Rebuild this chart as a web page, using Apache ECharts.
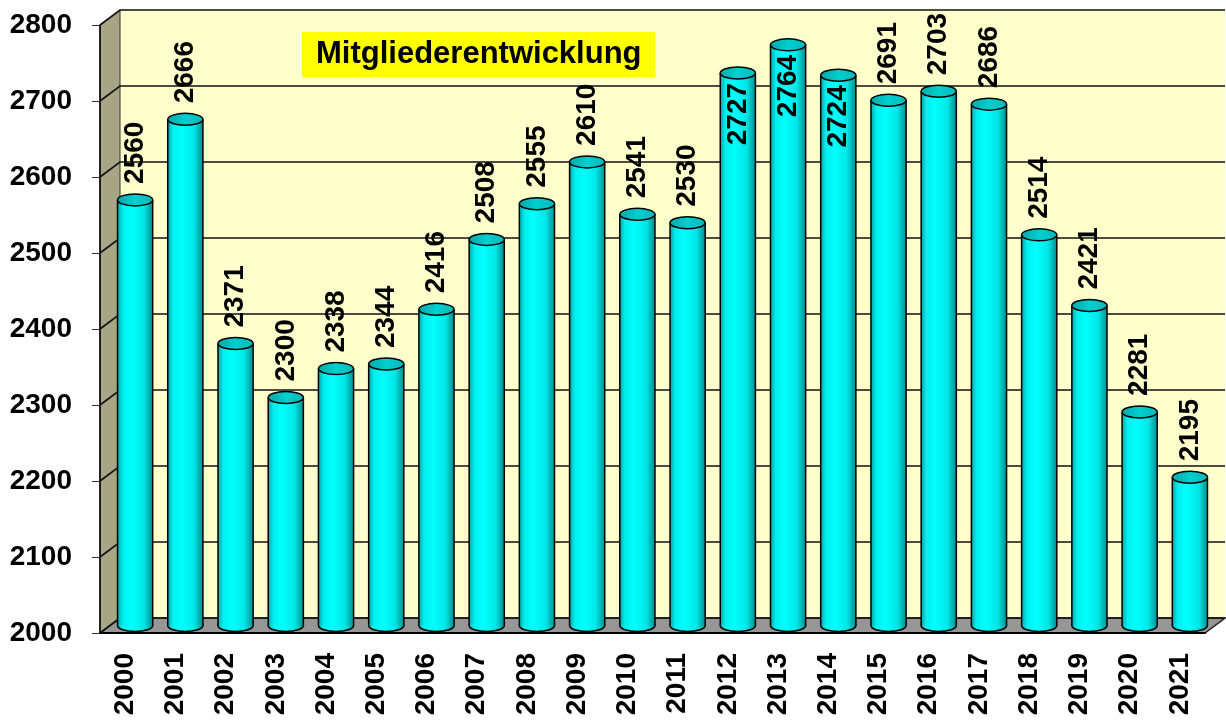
<!DOCTYPE html>
<html lang="de">
<head>
    <meta charset="UTF-8">
    <title>Mitgliederentwicklung</title>
    <script src="https://cdn.jsdelivr.net/npm/echarts@6/dist/echarts.min.js"></script>
    <style>
        html, body { margin: 0; padding: 0; background: #fff; }
        #main { width: 1226px; height: 720px; }
    </style>
</head>
<body>
<div id="main"></div>
<script>
    // Daten
    var years = ['2000','2001','2002','2003','2004','2005','2006','2007','2008','2009','2010',
                 '2011','2012','2013','2014','2015','2016','2017','2018','2019','2020','2021'];
    var members = [2560,2666,2371,2300,2338,2344,2416,2508,2555,2610,2541,
                   2530,2727,2764,2724,2691,2703,2686,2514,2421,2281,2195];
    var yMin = 2000, yMax = 2800, yStep = 100;
    var titleText = 'Mitgliederentwicklung';

    var FONT = '"Liberation Sans", Arial, sans-serif';
    var DX = 20, DY = -15;   // 3D Tiefe

    // Waende, Boden, Gitterlinien
    function renderScene(params, api) {
        var cs = params.coordSys;
        var L = cs.x, R = cs.x + cs.width, T = cs.y, B = cs.y + cs.height;
        var children = [];
        children.push({type:'rect', shape:{x:L+DX, y:T+DY, width:R-L, height:B-T}, style:{fill:'#FFFFCC'}});
        children.push({type:'polygon', shape:{points:[[L,T],[L+DX,T+DY],[L+DX,B+DY],[L,B]]},
            style:{fill:'#A6A687', stroke:'#333', lineWidth:1}});
        children.push({type:'polygon', shape:{points:[[L,B],[L+DX,B+DY],[R+DX,B+DY],[R,B]]},
            style:{fill:'#969696', stroke:'#222', lineWidth:1.5}});
        for (var v = yMin; v <= yMax; v += yStep) {
            var y = api.coord([0, v])[1];
            children.push({type:'polyline', shape:{points:[[L,y],[L+DX,y+DY],[R+DX,y+DY]]},
                style:{stroke:'#111', lineWidth:1.6, fill:null}});
        }
        return {type:'group', children:children};
    }

    // Zylinder
    function renderBar(params, api) {
        var idx = api.value(0), val = api.value(1);
        var top = api.coord([idx, val]);
        var base = api.coord([idx, yMin]);
        var bw = api.size([1, 0])[0] * 0.7;
        var cx = top[0] + DX / 2;
        var yT = top[1] + DY / 2;
        var yB = base[1] + DY / 2;
        var rx = bw / 2, ry = 6;
        var x0 = cx - rx, x1 = cx + rx;
        var body = new echarts.graphic.LinearGradient(0, 0, 1, 0, [
            {offset:0, color:'#00A8A8'},
            {offset:0.15, color:'#00EEEE'},
            {offset:0.4, color:'#00FFFF'},
            {offset:0.75, color:'#00E6E6'},
            {offset:1, color:'#008E8E'}
        ]);
        var cap = new echarts.graphic.LinearGradient(0, 0, 1, 0, [
            {offset:0, color:'#00A6A6'},
            {offset:0.5, color:'#00CFCF'},
            {offset:1, color:'#00B8B8'}
        ]);
        var labelLen = 62;
        var label;
        if (yT - 16 - labelLen < 0) {
            label = {type:'text', x:cx, y:yT + 10, rotation:Math.PI / 2,
                style:{text:String(val), font:'bold 28px ' + FONT, fill:'#000', align:'right', verticalAlign:'middle'}};
        } else {
            label = {type:'text', x:cx, y:yT - 16, rotation:Math.PI / 2,
                style:{text:String(val), font:'bold 28px ' + FONT, fill:'#000', align:'left', verticalAlign:'middle'}};
        }
        return {
            type:'group',
            children:[
                {type:'ellipse', shape:{cx:cx, cy:yB, rx:rx, ry:ry}, style:{fill:body, stroke:'#000', lineWidth:1.5}},
                {type:'rect', shape:{x:x0, y:yT, width:bw, height:yB - yT}, style:{fill:body}},
                {type:'line', shape:{x1:x0, y1:yT, x2:x0, y2:yB}, style:{stroke:'#000', lineWidth:1.5}},
                {type:'line', shape:{x1:x1, y1:yT, x2:x1, y2:yB}, style:{stroke:'#000', lineWidth:1.5}},
                {type:'ellipse', shape:{cx:cx, cy:yT, rx:rx, ry:ry}, style:{fill:cap, stroke:'#000', lineWidth:1.5}},
                label
            ]
        };
    }

    var barData = [];
    for (var i = 0; i < members.length; i++) {
        barData.push([i, members[i]]);
    }

    var myChart = echarts.init(document.getElementById('main'));
    var option = {
        animation:false,
        backgroundColor:'#fff',
        title:{
            text:titleText,
            left:302,
            top:32,
            backgroundColor:'#FFFF00',
            padding:[5, 14],
            textStyle:{fontSize:31, fontWeight:'bold', fontFamily:FONT, color:'#000', lineHeight:35}
        },
        grid:{left:100, right:21, top:25, bottom:87, containLabel:false},
        xAxis:{
            type:'category',
            data:years,
            z:3,
            axisLine:{lineStyle:{color:'#000', width:2}},
            axisTick:{length:8, lineStyle:{color:'#333'}},
            axisLabel:{rotate:90, margin:20, fontSize:28, fontWeight:'bold', fontFamily:FONT, color:'#000'}
        },
        yAxis:{
            type:'value',
            min:yMin,
            max:yMax,
            interval:yStep,
            z:3,
            splitLine:{show:false},
            axisLine:{show:true, lineStyle:{color:'#000', width:1.5}},
            axisTick:{show:true, length:8, lineStyle:{color:'#333'}},
            axisLabel:{
                margin:28, fontSize:28, fontWeight:'bold', fontFamily:FONT, color:'#000',
                formatter:function (v) { return String(v); }
            }
        },
        series:[
            {
                type:'custom',
                name:'scene',
                z:1,
                silent:true,
                renderItem:renderScene,
                data:[[0, yMin]]
            },
            {
                type:'custom',
                name:'Mitglieder',
                z:2,
                renderItem:renderBar,
                encode:{x:0, y:1},
                data:barData
            }
        ]
    };
    myChart.setOption(option);
</script>
</body>
</html>
